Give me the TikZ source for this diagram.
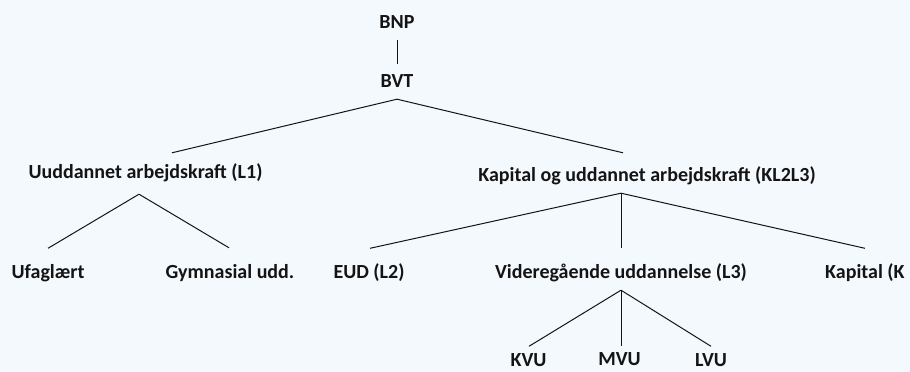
\documentclass[tikz,border=0pt]{standalone}
\usepackage{fontspec}
\setmainfont{Carlito}
\usetikzlibrary{calc}
\definecolor{bgblue}{RGB}{244,249,254}
\definecolor{ink}{RGB}{20,20,20}
\tikzset{
  lbl/.style={font=\fontsize{20}{20}\selectfont\bfseries, text=ink,
    inner xsep=0pt, inner ysep=11pt, text height=13pt, text depth=0pt, anchor=base},
  leaf/.style={lbl, inner ysep=0pt},
  conn/.style={draw=ink, line width=1pt}
}
\begin{document}
\begin{tikzpicture}[x=1pt,y=1pt]
\fill[bgblue] (0,0) rectangle (910,372);
\useasboundingbox (0,0) rectangle (910,372);
\begin{scope}
\clip (0,0) rectangle (910,372);
% level 0/1
\node[lbl] (bnp) at (397,343) {BNP};
\node[lbl] (bvt) at (397,284) {BVT};
% level 2
\node[lbl] (l1) at (145.5,193) {Uuddannet arbejdskraft (L1)};
\node[lbl] (kl) at (647,190) {Kapital og uddannet arbejdskraft (KL2L3)};
% level 3
\node[lbl] (ufa) at (48,93) {Ufaglært};
\node[lbl] (gym) at (230,93) {Gymnasial udd.};
\node[lbl] (eud) at (369,93) {EUD (L2)};
\node[lbl] (l3) at (621,93) {Videregående uddannelse (L3)};
\node[lbl, anchor=base west] (kap) at (825,93) {Kapital (K};
% level 4
\node[leaf] (kvu) at (528.5,5.5) {KVU};
\node[leaf] (mvu) at (619.5,6) {MVU};
\node[leaf] (lvu) at (711,5.5) {LVU};
\end{scope}
% connectors
\draw[conn] (bnp.south) -- (bvt.north);
\draw[conn] (bvt.south) -- ($(l1.north)+(26.5,2)$);
\draw[conn] (bvt.south) -- ($(kl.north)+(-24,5)$);
\coordinate (l1j) at ($(l1.south)+(-6.5,-4)$);
\draw[conn] (l1j) -- ($(ufa.north)+(0,6.5)$);
\draw[conn] (l1j) -- ($(gym.north)+(-1,7)$);
\coordinate (klj) at ($(kl.south)+(-26,0)$);
\draw[conn] (klj) -- ($(eud.north)+(1,6.5)$);
\draw[conn] (klj) -- ($(l3.north)+(0,7)$);
\draw[conn] (klj) -- ($(kap.north)+(0,6.5)$);
\draw[conn] (l3.south) -- ($(kvu.north)+(0.5,7)$);
\draw[conn] (l3.south) -- ($(mvu.north)+(1.5,6.5)$);
\draw[conn] (l3.south) -- ($(lvu.north)+(0,7)$);
\end{tikzpicture}
\end{document}
